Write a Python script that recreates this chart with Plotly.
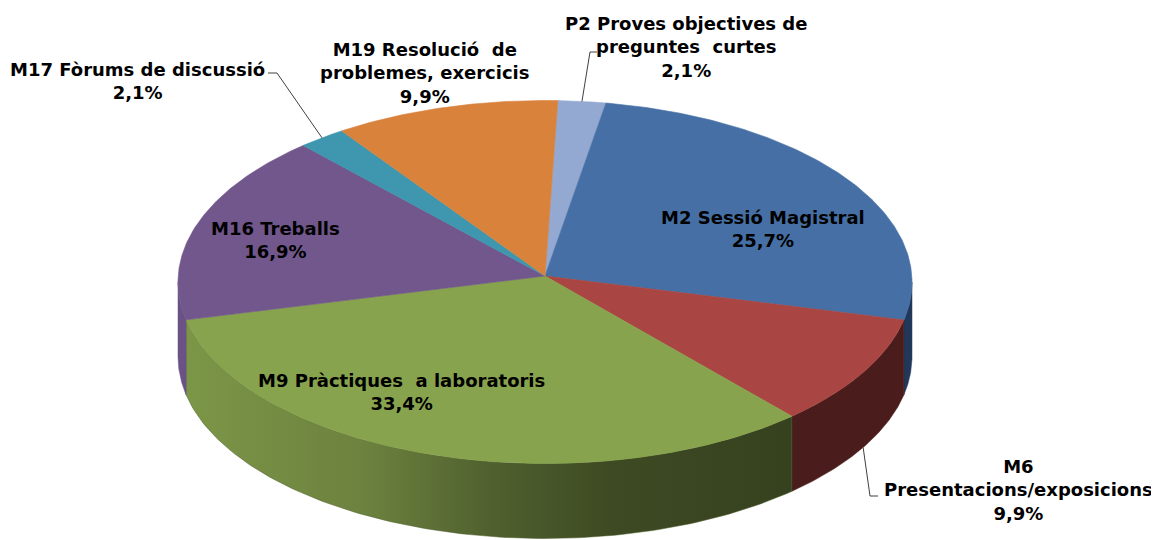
import numpy as np
import plotly.graph_objects as go

# ---- data ----
labels = ["P2 Proves objectives de<br>preguntes  curtes",
          "M2 Sessió Magistral",
          "M6<br>Presentacions/exposicions",
          "M9 Pràctiques  a laboratoris",
          "M16 Treballs",
          "M17 Fòrums de discussió",
          "M19 Resolució  de<br>problemes, exercicis"]
values = [2.1, 25.7, 9.9, 33.4, 16.9, 2.1, 9.9]
pct_text = ["2,1%", "25,7%", "9,9%", "33,4%", "16,9%", "2,1%", "9,9%"]

# ---- styling / layout ----
top_colors = ["#94a9d2", "#4670a5", "#a94542", "#88a34e", "#71578c", "#3e97ae", "#d9823c"]
side_colors = ["#6f83a8", "#22385a", "#4a1c1c", None, "#6a5286", "#2f7a8c", "#a8652e"]
green_side_scale = [[0.0, "#7c9647"], [0.3, "#6c813e"], [0.5, "#50612f"],
                    [0.7, "#3e4a23"], [1.0, "#36421f"]]

W, H = 1159, 540
OFF = 8                    # page body margin
cx, cy = 545, 282          # ellipse centre (pixels)
ax_, ay_ = 545, 276        # apex of slices
rx, ry = 367, 181.5
depth = 75
rot = 2.0                  # start angle (deg, clockwise from top)

label_pos = {0: (686, 47), 1: (763, 229), 2: (1018, 490), 3: (401, 392),
             4: (275, 240), 5: (137, 81), 6: (424, 73)}
leaders = {0: [(590, 52), (597, 52)],
           5: [(277, 73), (268, 73)],
           2: [(870, 496), (878, 496)]}


def ell(theta_deg, dy=0.0):
    t = np.radians(theta_deg)
    return cx + rx * np.sin(t), cy - ry * np.cos(t) + dy


fig = go.Figure()

total = sum(values)
bounds = []
acc = rot
for v in values:
    a1 = acc
    a2 = acc + v / total * 360.0
    bounds.append((a1, a2))
    acc = a2

# sides (front half: 90..270 deg)
for i, (a1, a2) in enumerate(bounds):
    s1, s2 = max(a1, 90), min(a2, 270)
    if s2 <= s1:
        continue
    th = np.linspace(s1, s2, 120)
    xt, yt = ell(th)
    xb, yb = ell(th[::-1], depth)
    xs = np.concatenate([xt, xb, xt[:1]])
    ys = np.concatenate([yt, yb, yt[:1]])
    if side_colors[i] is None:
        fig.add_trace(go.Scatter(x=xs, y=ys, mode="lines", fill="toself",
                                 line=dict(width=0.5, color="#4a5a2a"),
                                 fillgradient=dict(type="horizontal",
                                                   colorscale=green_side_scale),
                                 hoverinfo="skip", showlegend=False))
    else:
        fig.add_trace(go.Scatter(x=xs, y=ys, mode="lines", fill="toself",
                                 fillcolor=side_colors[i],
                                 line=dict(width=0.5, color=side_colors[i]),
                                 hoverinfo="skip", showlegend=False))

# top faces
for i, (a1, a2) in enumerate(bounds):
    th = np.linspace(a1, a2, max(4, int((a2 - a1) * 2)))
    xt, yt = ell(th)
    xs = np.concatenate([[ax_], xt, [ax_]])
    ys = np.concatenate([[ay_], yt, [ay_]])
    fig.add_trace(go.Scatter(x=xs, y=ys, mode="lines", fill="toself",
                             fillcolor=top_colors[i],
                             line=dict(width=0.6, color=top_colors[i]),
                             hoverinfo="skip", showlegend=False))

# leader lines
for i, pts in leaders.items():
    a1, a2 = bounds[i]
    mid = (a1 + a2) / 2
    if i == 2:
        sx, sy = ell(mid, depth)
    else:
        sx, sy = ell(mid)
    xs = [sx] + [p[0] for p in pts]
    ys = [sy] + [p[1] for p in pts]
    fig.add_trace(go.Scatter(x=xs, y=ys, mode="lines",
                             line=dict(width=1, color="#404040"),
                             hoverinfo="skip", showlegend=False))

# labels
for i, lab in enumerate(labels):
    x, y = label_pos[i]
    fig.add_annotation(x=x, y=y, text="<b>" + lab + "<br>" + pct_text[i] + "</b>",
                       showarrow=False, xanchor="center", yanchor="middle",
                       align="center",
                       font=dict(family="DejaVu Sans", size=18, color="#000000"))

fig.update_layout(width=W - OFF, height=H - OFF, margin=dict(l=0, r=0, t=0, b=0),
                  paper_bgcolor="white", plot_bgcolor="white",
                  xaxis=dict(range=[OFF, W], visible=False, fixedrange=True),
                  yaxis=dict(range=[H, OFF], visible=False, fixedrange=True),
                  showlegend=False)

fig.write_html("out.html")
